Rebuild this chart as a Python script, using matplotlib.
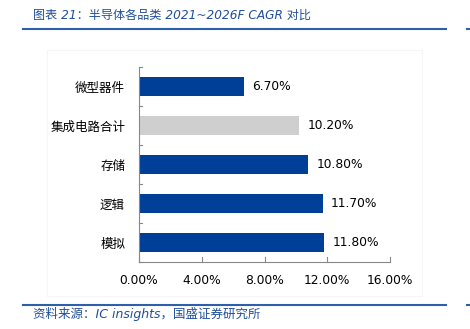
import matplotlib.pyplot as plt
import matplotlib.patches as mpatches
from matplotlib.lines import Line2D

plt.rcParams['font.family'] = ['Noto Sans CJK SC', 'DejaVu Sans']

# Data
categories = ['微型器件', '集成电路合计', '存储', '逻辑', '模拟']
cagr = [6.70, 10.20, 10.80, 11.70, 11.80]
bar_colors = ['#003F98', '#D0CFCF', '#003F98', '#003F98', '#003F98']
x_ticks = [0, 4, 8, 12, 16]
x_tick_labels = ['0.00%', '4.00%', '8.00%', '12.00%', '16.00%']

fig = plt.figure(figsize=(4.70, 3.29), dpi=100)

# faint chart frame
fig.add_artist(mpatches.Rectangle((47 / 470, 1 - 296 / 329), 375 / 470, 246 / 329,
                                  transform=fig.transFigure, fill=False,
                                  edgecolor='#F6F6F6', linewidth=0.8))

ax = fig.add_axes([139 / 470, 1 - 262 / 329, 251 / 470, 195 / 329])
y = range(len(categories))
ax.barh(y, cagr, height=0.47, color=bar_colors)

for yi, v in zip(y, cagr):
    ax.annotate(f'{v:.2f}%', (v, yi), xytext=(6, 0), textcoords='offset points',
                ha='left', va='center', fontsize=8.8, color='black',
                family='DejaVu Sans')

ax.set_xlim(0, 16)
ax.set_ylim(len(categories) - 0.5, -0.5)
ax.set_xticks(x_ticks)
ax.set_xticklabels(x_tick_labels, family='DejaVu Sans', fontsize=8.8)
ax.set_yticks(y)
ax.set_yticklabels(categories, fontsize=9)
ax.tick_params(axis='y', length=0, pad=10)
ax.tick_params(axis='x', length=0, pad=9)

# inward boundary ticks
for b in [i - 0.5 for i in range(len(categories) + 1)]:
    ax.plot([0, 0.2], [b, b], color='#888888', linewidth=0.8, clip_on=False)
for t in x_ticks:
    ax.plot([t, t], [len(categories) - 0.5, len(categories) - 0.5 - 0.12],
            color='#888888', linewidth=0.8, clip_on=False)

for s in ['top', 'right']:
    ax.spines[s].set_visible(False)
for s in ['left', 'bottom']:
    ax.spines[s].set_color('#888888')
    ax.spines[s].set_linewidth(0.8)

# title, rules and source
line_color = '#2E5FAA'
fig.text(33 / 470, 1 - 15 / 329, '图表 21：半导体各品类 2021~2026F CAGR 对比',
         fontsize=8.7, color='#1F4E9A', style='italic', va='center', ha='left',
         family=['DejaVu Sans', 'Noto Sans CJK SC'])
fig.add_artist(Line2D([23 / 470, 446 / 470], [1 - 29 / 329] * 2, color=line_color, linewidth=1.5))
fig.add_artist(Line2D([467 / 470, 1.0], [1 - 29 / 329] * 2, color=line_color, linewidth=1.5))
fig.add_artist(Line2D([23 / 470, 446 / 470], [1 - 305 / 329] * 2, color=line_color, linewidth=1.5))
fig.add_artist(Line2D([467 / 470, 1.0], [1 - 305 / 329] * 2, color=line_color, linewidth=1.5))
fig.text(33 / 470, 1 - 314 / 329, '资料来源：IC insights，国盛证券研究所',
         fontsize=9, color='#1F4E9A', style='italic', va='center', ha='left',
         family=['DejaVu Sans', 'Noto Sans CJK SC'])

fig.savefig('out.png', dpi=100)
